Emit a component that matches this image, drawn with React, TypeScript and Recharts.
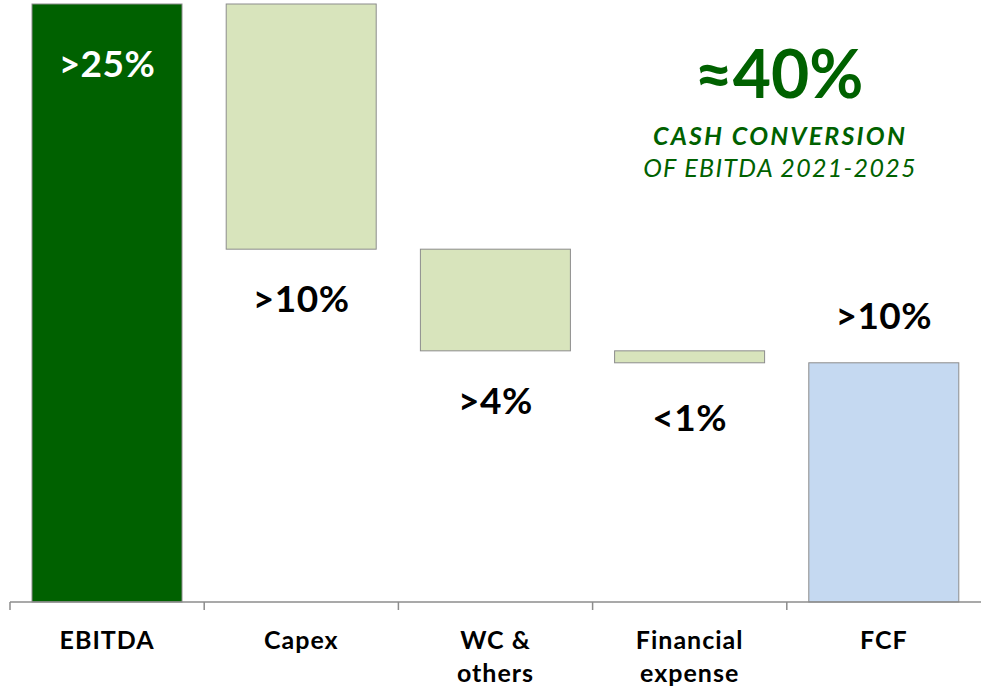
import React from "react";
import { BarChart, Bar, XAxis, YAxis, LabelList } from "recharts";

const categories = ["EBITDA", "Capex", "WC &\nothers", "Financial\nexpense", "FCF"];
// step size of each bar, EBITDA = 100
const steps = [100, 41, 17, 2, 40];
// true = bar starts at zero, false = floats down from the previous level
const isTotal = [true, false, false, false, true];
const valueLabels = [">25%", ">10%", ">4%", "<1%", ">10%"];
const labelSpots = ["insideTop", "below", "below", "below", "above"];
const fills = ["#006100", "#d8e4bc", "#d8e4bc", "#d8e4bc", "#c5d9f1"];

const GREEN = "#006100";
const FONT = "Lato, 'Noto Sans', sans-serif";

const data = (() => {
  let level = 0;
  return categories.map((name, i) => {
    let base = 0;
    if (isTotal[i]) {
      level = steps[i];
    } else {
      level = level - steps[i];
      base = level;
    }
    return { name, base, value: steps[i], idx: i };
  });
})();

const BAND = 971 / categories.length;

const AxisTick = (props: any) => {
  const { x, y, payload } = props;
  const lines = String(payload.value).split("\n");
  return (
    <g>
      <line x1={x - BAND / 2} x2={x - BAND / 2} y1={y - 8} y2={y} stroke="#8c8c8c" strokeWidth={1.5} />
      <text
        x={x}
        y={y + 39}
        textAnchor="middle"
        fontFamily={FONT}
        fontWeight={700}
        fontSize={25}
        letterSpacing={1}
        fill="#000"
      >
        {lines.map((l, i) => (
          <tspan key={i} x={x} dy={i === 0 ? 0 : 33}>
            {l}
          </tspan>
        ))}
      </text>
    </g>
  );
};

const ValueLabel = (props: any) => {
  const { x, y, width, height, index } = props;
  const spot = labelSpots[index];
  const cx = x + width / 2;
  let ty = y + 73;
  if (spot === "below") ty = y + height + (index === 3 ? 68 : 63);
  if (spot === "above") ty = y - 34;
  return (
    <text
      x={cx}
      y={ty}
      textAnchor="middle"
      fontFamily={FONT}
      fontWeight={700}
      fontSize={37}
      letterSpacing={0.5}
      fill={index === 0 ? "#fff" : "#000"}
    >
      {valueLabels[index]}
    </text>
  );
};

export default function App() {
  return (
    <div style={{ position: "fixed", left: 0, top: 0, width: 981, height: 688, background: "#fff" }}>
      <BarChart
        width={981}
        height={688}
        data={data}
        margin={{ top: 4, right: 0, left: 10, bottom: 0 }}
        barSize={150}
      >
        <XAxis
          dataKey="name"
          axisLine={{ stroke: "#8c8c8c", strokeWidth: 1.5 }}
          tickLine={false}
          tick={<AxisTick />}
          height={86}
          interval={0}
        />
        <YAxis hide domain={[0, 100]} />
        <Bar dataKey="base" stackId="w" fill="transparent" isAnimationActive={false} />
        <Bar
          dataKey="value"
          stackId="w"
          stroke="#8c8c8c"
          strokeWidth={1}
          isAnimationActive={false}
          shape={(p: any) => (
            <rect x={p.x} y={p.y} width={p.width} height={p.height} fill={fills[p.index]} stroke="#8c8c8c" strokeWidth={1} />
          )}
        >
          <LabelList dataKey="value" content={<ValueLabel />} />
        </Bar>
        <text x={779} y={98} textAnchor="middle" fontFamily={FONT} fontWeight={700} fontSize={66} fill={GREEN}>
          ≈40%
        </text>
        <text x={780} y={145} textAnchor="middle" fontFamily={FONT} fontWeight={700} fontStyle="italic" fontSize={25} letterSpacing={2.2} fill={GREEN}>
          CASH CONVERSION
        </text>
        <text x={780} y={177} textAnchor="middle" fontFamily={FONT} fontStyle="italic" fontSize={25} letterSpacing={1.3} fill={GREEN}>
          OF EBITDA 2021-2025
        </text>
      </BarChart>
    </div>
  );
}
